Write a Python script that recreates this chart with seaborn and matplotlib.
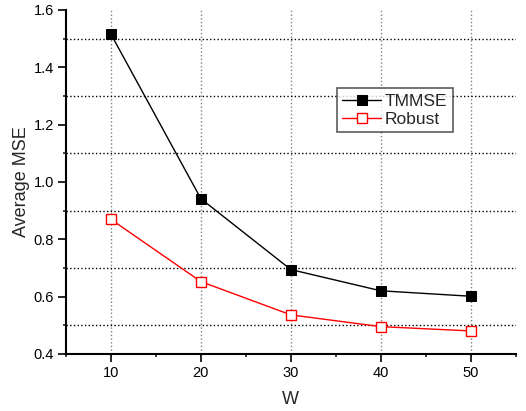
import numpy as np
import pandas as pd
import seaborn as sns
import matplotlib.pyplot as plt
from matplotlib.ticker import MultipleLocator

w = [10, 20, 30, 40, 50]
tmmse = [1.515, 0.941, 0.694, 0.620, 0.601]
robust = [0.869, 0.652, 0.536, 0.495, 0.480]

df = pd.DataFrame({'W': w * 2,
                   'mse': tmmse + robust,
                   'method': ['TMMSE'] * 5 + ['Robust'] * 5})

sns.set_style("ticks")
plt.rcParams['font.family'] = ['Liberation Sans', 'DejaVu Sans']

fig = plt.figure(figsize=(5.26, 4.11), dpi=100)
ax = fig.add_axes([0.1255, 0.139, 0.855, 0.837])

sns.lineplot(data=df[df.method == 'TMMSE'], x='W', y='mse', color='black', lw=1,
             marker='s', markersize=7, markerfacecolor='black', markeredgecolor='black',
             label='TMMSE', ax=ax)
sns.lineplot(data=df[df.method == 'Robust'], x='W', y='mse', color='red', lw=1,
             marker='s', markersize=7, markerfacecolor='white', markeredgecolor='red',
             markeredgewidth=1, label='Robust', ax=ax)

ax.set_xlim(5, 55)
ax.set_ylim(0.4, 1.6)
ax.xaxis.set_major_locator(MultipleLocator(10))
ax.xaxis.set_minor_locator(MultipleLocator(5))
ax.yaxis.set_major_locator(MultipleLocator(0.2))
ax.yaxis.set_minor_locator(MultipleLocator(0.1))
ax.yaxis.set_major_formatter(plt.FormatStrFormatter('%.1f'))

ax.grid(False)
ax.grid(True, which='major', axis='x', color='grey', linestyle=':', lw=1)
ax.grid(True, which='minor', axis='y', color='black', linestyle=':', lw=1)
ax.tick_params(which='major', direction='out', length=5.5, width=1.2, labelsize=10.5,
               colors='black', pad=3)
ax.tick_params(which='minor', direction='out', length=2.5, width=1.2)

for s in ['top', 'right']:
    ax.spines[s].set_visible(False)
for s in ['left', 'bottom']:
    ax.spines[s].set_linewidth(1.5)
    ax.spines[s].set_color('black')

ax.set_xlabel('W', fontsize=13, labelpad=8)
ax.set_ylabel('Average MSE', fontsize=13, labelpad=3)

leg = ax.legend(loc='upper left', bbox_to_anchor=(0.603, 0.772), fontsize=12.5,
                frameon=True, fancybox=False, edgecolor='#333333',
                handlelength=2.2, borderpad=0.3, labelspacing=0.2, handletextpad=0.25,
                borderaxespad=0)
leg.get_frame().set_linewidth(1.2)

fig.savefig('out.png', dpi=100)
